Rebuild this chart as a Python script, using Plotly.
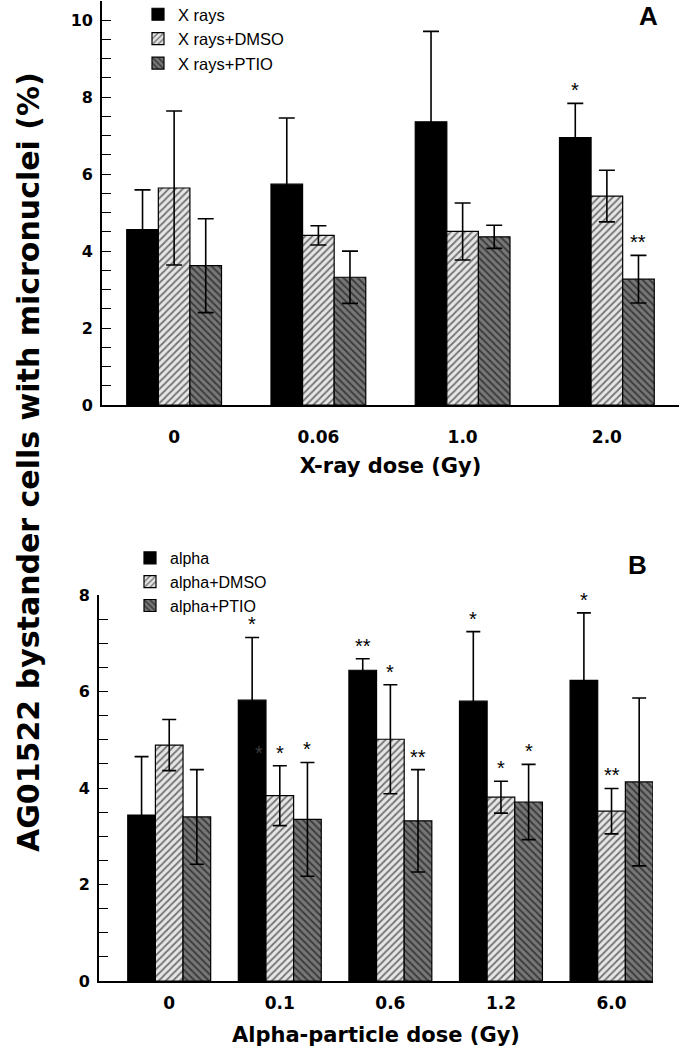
import plotly.graph_objects as go

# ---------------- data ----------------
xray_doses = ["0", "0.06", "1.0", "2.0"]
xray = [4.56, 5.74, 7.36, 6.95]
xray_err = [1.03, 1.72, 2.35, 0.89]
xray_dmso = [5.64, 4.41, 4.51, 5.43]
xray_dmso_err = [2.00, 0.25, 0.74, 0.67]
xray_ptio = [3.62, 3.32, 4.37, 3.27]
xray_ptio_err = [1.22, 0.68, 0.30, 0.62]

alpha_doses = ["0", "0.1", "0.6", "1.2", "6.0"]
alpha = [3.44, 5.82, 6.44, 5.80, 6.23]
alpha_err = [1.21, 1.30, 0.24, 1.44, 1.40]
alpha_dmso = [4.89, 3.84, 5.01, 3.81, 3.52]
alpha_dmso_err = [0.53, 0.62, 1.13, 0.33, 0.47]
alpha_ptio = [3.40, 3.35, 3.32, 3.71, 4.125]
alpha_ptio_err = [0.98, 1.18, 1.06, 0.78, 1.74]

# significance marks: (series index, category index, text)
xray_marks = [(0, 3, "*"), (2, 3, "**")]
alpha_marks = [(0, 1, "*"), (1, 1, "*"), (2, 1, "*"),
               (0, 2, "**"), (1, 2, "*"), (2, 2, "**"),
               (0, 3, "*"), (1, 3, "*"), (2, 3, "*"),
               (0, 4, "*"), (1, 4, "**")]

# ---------------- styles ----------------
FONT = "Liberation Sans, Arial, sans-serif"
BOLDFONT = "DejaVu Sans, sans-serif"
styles = [
    dict(color="black", pattern=None),
    dict(color="#e6e6e6", pattern=dict(shape="/", fgcolor="black", bgcolor="#e6e6e6", size=5, solidity=0.35)),
    dict(color="#777777", pattern=dict(shape="\\", fgcolor="black", bgcolor="#777777", size=5, solidity=0.38)),
]

fig = go.Figure()

def add_panel(cats, series, errs, names, xa, ya, legend, width, capw):
    for k, (vals, err, name) in enumerate(zip(series, errs, names)):
        st = styles[k]
        marker = dict(color=st["color"], line=dict(color="black", width=1.2))
        if st["pattern"] is not None:
            marker["pattern"] = st["pattern"]
        fig.add_trace(go.Bar(
            x=cats, y=vals, name=name, width=width, offset=-1.5 * width + k * width,
            marker=marker, xaxis=xa, yaxis=ya, legend=legend,
            error_y=dict(type="data", array=err, visible=True, color="black",
                         thickness=1.6, width=capw),
        ))

add_panel(xray_doses, [xray, xray_dmso, xray_ptio], [xray_err, xray_dmso_err, xray_ptio_err],
          ["X rays", "X rays+DMSO", "X rays+PTIO"], "x", "y", "legend", 0.219, 8)
add_panel(alpha_doses, [alpha, alpha_dmso, alpha_ptio], [alpha_err, alpha_dmso_err, alpha_ptio_err],
          ["alpha", "alpha+DMSO", "alpha+PTIO"], "x2", "y2", "legend2", 0.25, 7)

annotations = []

def add_marks(marks, series, errs, width, xref, yref):
    for s, c, txt in marks:
        annotations.append(dict(
            x=c - width + s * width, y=series[s][c] + errs[s][c], xref=xref, yref=yref,
            text=txt, showarrow=False, yanchor="middle", yshift=13,
            font=dict(family=FONT, size=20, color="black"),
        ))

add_marks(xray_marks, [xray, xray_dmso, xray_ptio], [xray_err, xray_dmso_err, xray_ptio_err], 0.219, "x", "y")
add_marks(alpha_marks, [alpha, alpha_dmso, alpha_ptio], [alpha_err, alpha_dmso_err, alpha_ptio_err], 0.25, "x2", "y2")
# faint mark partly hidden on the alpha 0.1 bar
annotations.append(dict(x=1 - 0.25, y=alpha_dmso[1] + alpha_dmso_err[1], xref="x2", yref="y2",
                        text="*", showarrow=False, yanchor="middle", yshift=13, xshift=7,
                        font=dict(family=FONT, size=20, color="#3a3a3a")))

# panel letters
annotations.append(dict(x=648 / 680, y=1 - 16 / 1050, xref="paper", yref="paper", text="<b>A</b>",
                        xanchor="center", yanchor="middle",
                        showarrow=False, font=dict(family=FONT, size=26, color="black")))
annotations.append(dict(x=637 / 680, y=1 - 565 / 1050, xref="paper", yref="paper", text="<b>B</b>",
                        xanchor="center", yanchor="middle",
                        showarrow=False, font=dict(family=FONT, size=26, color="black")))
# shared y title
annotations.append(dict(x=29 / 680, y=1 - 462 / 1050, xref="paper", yref="paper",
                        xanchor="center", yanchor="middle",
                        text="<b>AG01522 bystander cells with micronuclei (%)</b>", textangle=-90,
                        showarrow=False, font=dict(family=BOLDFONT, size=30, color="black")))

ytickfont = dict(family=BOLDFONT, size=16, color="black", weight="bold")
xtickfont = dict(family=BOLDFONT, size=17, color="black", weight="bold")
common_y = dict(showline=True, linecolor="black", linewidth=1.6, ticks="inside", ticklen=9,
                tickwidth=1.4, tickcolor="black", showgrid=False, zeroline=False,
                tickfont=ytickfont, ticklabelstandoff=4,
                minor=dict(ticks="inside", ticklen=9, tickwidth=1.4, tickcolor="black", dtick=0.5, showgrid=False))
common_x = dict(type="category", showline=True, linecolor="black", linewidth=1.6, ticks="",
                showgrid=False, zeroline=False, tickfont=xtickfont)
xtitlefont = dict(family=BOLDFONT, size=21, color="black", weight="bold")

fig.update_layout(
    width=680, height=1050,
    margin=dict(l=0, r=0, t=0, b=0, autoexpand=False),
    paper_bgcolor="white", plot_bgcolor="white",
    barmode="overlay",
    showlegend=True,
    xaxis=dict(domain=[102 / 680, 679 / 680], range=[-0.5, 3.5], anchor="y", ticklabelstandoff=16,
               title=dict(text="X-ray dose (Gy)", font=xtitlefont, standoff=12),
               **common_x),
    yaxis=dict(domain=[1 - 405 / 1050, 1 - 1 / 1050], range=[0, 10.5], anchor="x",
               tickvals=[0, 2, 4, 6, 8, 10], **common_y),
    xaxis2=dict(domain=[99 / 680, 653 / 680], range=[-0.635, 4.375], anchor="y2", ticklabelstandoff=6,
                title=dict(text="Alpha-particle dose (Gy)", font=xtitlefont, standoff=15),
                **common_x),
    yaxis2=dict(domain=[1 - 981 / 1050, 1 - 595 / 1050], range=[0, 8], anchor="x2",
                tickvals=[0, 2, 4, 6, 8], **common_y),
    legend=dict(x=138 / 680, y=1 + 3 / 1050, xanchor="left", yanchor="top", bgcolor="rgba(0,0,0,0)",
                font=dict(family=FONT, size=16.5, color="black"), tracegroupgap=0),
    legend2=dict(x=130 / 680, y=1 - 541 / 1050, xanchor="left", yanchor="top", bgcolor="rgba(0,0,0,0)",
                 font=dict(family=FONT, size=16, color="black"), tracegroupgap=0),
    annotations=annotations,
)

fig.write_html("out.html", config={"displayModeBar": False},
               post_script="document.body.style.margin='0px';")
